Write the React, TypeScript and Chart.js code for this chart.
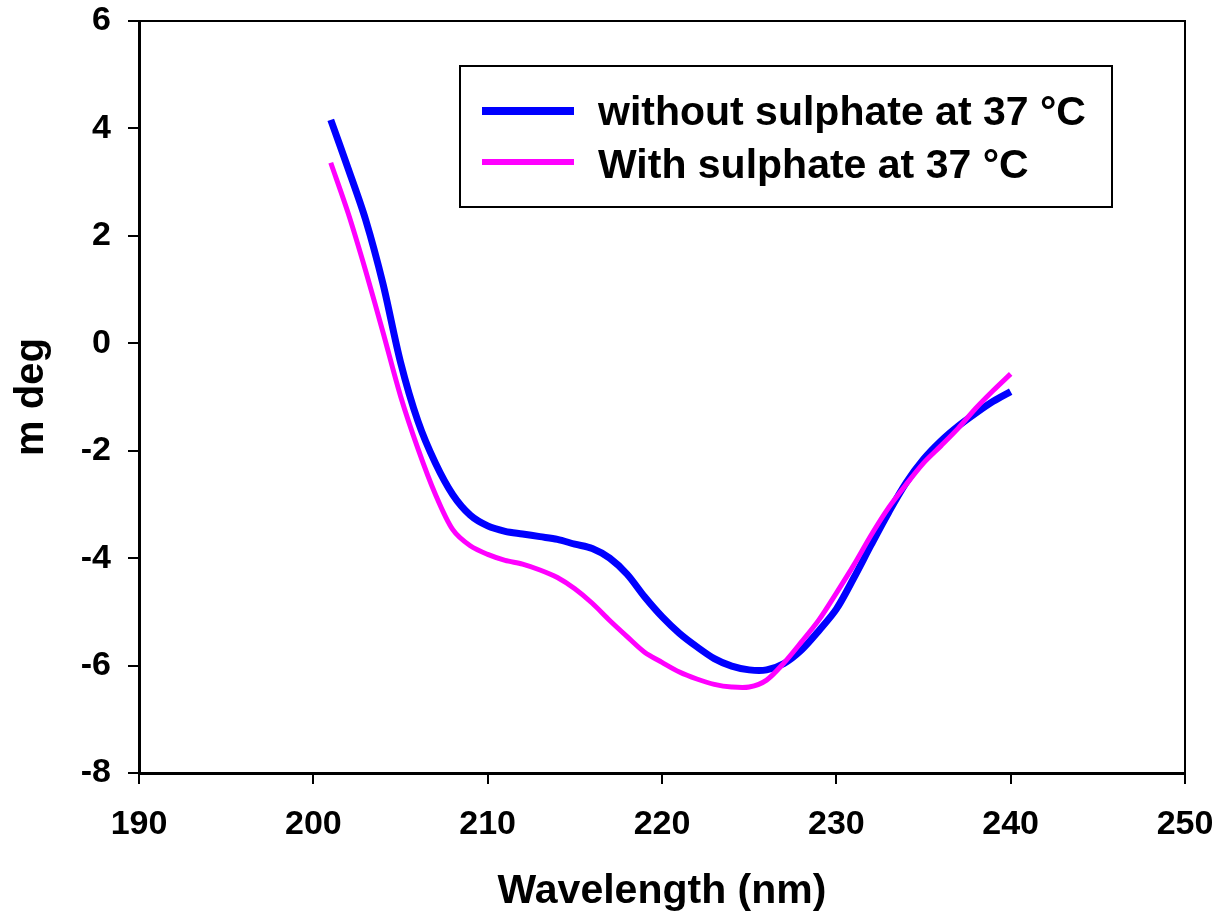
import React, { useEffect, useRef } from "react";
import { Chart, registerables } from "chart.js";

Chart.register(...registerables);

const wavelengths = [
  201, 202, 203, 204, 205, 206, 207, 208, 209, 210,
  211, 212, 213, 214, 215, 216, 217, 218, 219, 220,
  221, 222, 223, 224, 225, 226, 227, 228, 229, 230,
  231, 232, 233, 234, 235, 236, 237, 238, 239, 240,
];

const withoutSulphate = [
  4.16, 3.25, 2.3, 1.1, -0.35, -1.45, -2.23, -2.82, -3.2, -3.4,
  -3.5, -3.55, -3.6, -3.65, -3.74, -3.82, -4.0, -4.3, -4.72, -5.09,
  -5.4, -5.65, -5.87, -6.01, -6.08, -6.08, -5.96, -5.71, -5.35, -4.95,
  -4.37, -3.75, -3.15, -2.6, -2.16, -1.82, -1.54, -1.3, -1.08, -0.9,
];

const withSulphate = [
  3.36, 2.42, 1.35, 0.2, -0.98, -1.96, -2.81, -3.47, -3.77, -3.93,
  -4.04, -4.11, -4.22, -4.36, -4.57, -4.84, -5.16, -5.46, -5.75, -5.94,
  -6.12, -6.25, -6.35, -6.4, -6.4, -6.27, -5.95, -5.56, -5.15, -4.65,
  -4.13, -3.57, -3.06, -2.63, -2.23, -1.91, -1.58, -1.21, -0.88, -0.57,
];

const seriesLabels = ["without sulphate at 37 \u00B0C", "With sulphate at 37 \u00B0C"];
const seriesColors = ["#0000FF", "#FF00FF"];

const xTitle = "Wavelength (nm)";
const yTitle = "m deg";

const FONT = '"Liberation Sans", Arial, Helvetica, sans-serif';

const frameAndLegend = {
  id: "frameAndLegend",
  afterDraw(chart: any) {
    const { ctx, chartArea } = chart;
    ctx.save();
    ctx.strokeStyle = "#000";
    ctx.lineWidth = 2;
    ctx.beginPath();
    ctx.moveTo(chartArea.left, chartArea.top);
    ctx.lineTo(chartArea.right, chartArea.top);
    ctx.lineTo(chartArea.right, chartArea.bottom);
    ctx.stroke();

    const bx = chartArea.left + 321;
    const by = chartArea.top + 45;
    const bw = 652;
    const bh = 141;
    ctx.fillStyle = "#fff";
    ctx.fillRect(bx, by, bw, bh);
    ctx.lineWidth = 2;
    ctx.strokeRect(bx, by, bw, bh);

    const widths = [8, 6];
    const lineY = [by + 45, by + 96];
    const textY = [by + 59, by + 112];
    ctx.font = `bold 41px ${FONT}`;
    ctx.textBaseline = "alphabetic";
    ctx.textAlign = "left";
    chart.data.datasets.forEach((ds: any, i: number) => {
      ctx.strokeStyle = ds.borderColor;
      ctx.lineWidth = widths[i];
      ctx.lineCap = "butt";
      ctx.beginPath();
      ctx.moveTo(bx + 22, lineY[i]);
      ctx.lineTo(bx + 114, lineY[i]);
      ctx.stroke();
      ctx.fillStyle = "#000";
      ctx.fillText(ds.label, bx + 138, textY[i]);
    });
    ctx.restore();
  },
};

export default function App() {
  const canvasRef = useRef<HTMLCanvasElement | null>(null);

  useEffect(() => {
    document.body.style.margin = "0";
    const canvas = canvasRef.current;
    if (!canvas) return;
    const chart = new Chart(canvas, {
      type: "line",
      data: {
        datasets: [
          {
            label: seriesLabels[0],
            data: wavelengths.map((x, i) => ({ x, y: withoutSulphate[i] })),
            borderColor: seriesColors[0],
            backgroundColor: seriesColors[0],
            borderWidth: 7,
            pointRadius: 0,
            tension: 0.3,
            order: 1,
          },
          {
            label: seriesLabels[1],
            data: wavelengths.map((x, i) => ({ x, y: withSulphate[i] })),
            borderColor: seriesColors[1],
            backgroundColor: seriesColors[1],
            borderWidth: 5,
            pointRadius: 0,
            tension: 0.3,
            order: 0,
          },
        ],
      },
      options: {
        responsive: false,
        animation: false,
        events: [],
        layout: { padding: { left: 0, right: 34, top: 21, bottom: 0 } },
        plugins: {
          legend: { display: false },
          tooltip: { enabled: false },
          title: { display: false },
        },
        scales: {
          x: {
            type: "linear",
            min: 190,
            max: 250,
            afterFit: (scale: any) => {
              scale.height = 145;
              scale.paddingLeft = 0;
              scale.paddingRight = 0;
            },
            ticks: {
              stepSize: 10,
              color: "#000",
              padding: 20,
              maxRotation: 0,
              font: { family: FONT, size: 34, weight: "bold" },
            },
            grid: {
              drawOnChartArea: false,
              drawTicks: true,
              tickLength: 11,
              color: "#000",
              lineWidth: 2,
            },
            border: { display: true, color: "#000", width: 3 },
            title: {
              display: true,
              text: xTitle,
              color: "#000",
              font: { family: FONT, size: 41, weight: "bold" },
              padding: { top: 0, bottom: 2 },
            },
          },
          y: {
            type: "linear",
            min: -8,
            max: 6,
            afterFit: (scale: any) => {
              scale.width = 139;
              scale.paddingTop = 0;
              scale.paddingBottom = 0;
            },
            ticks: {
              stepSize: 2,
              color: "#000",
              padding: 17,
              font: { family: FONT, size: 34, weight: "bold" },
            },
            grid: {
              drawOnChartArea: false,
              drawTicks: true,
              tickLength: 11,
              color: "#000",
              lineWidth: 2,
            },
            border: { display: true, color: "#000", width: 3 },
            title: {
              display: true,
              text: yTitle,
              color: "#000",
              font: { family: FONT, size: 40, weight: "bold" },
              padding: { top: 8, bottom: 0 },
            },
          },
        },
      },
      plugins: [frameAndLegend],
    });
    return () => chart.destroy();
  }, []);

  return (
    <div style={{ width: 1219, height: 918, background: "#fff" }}>
      <canvas ref={canvasRef} width={1219} height={918} style={{ display: "block" }} />
    </div>
  );
}
